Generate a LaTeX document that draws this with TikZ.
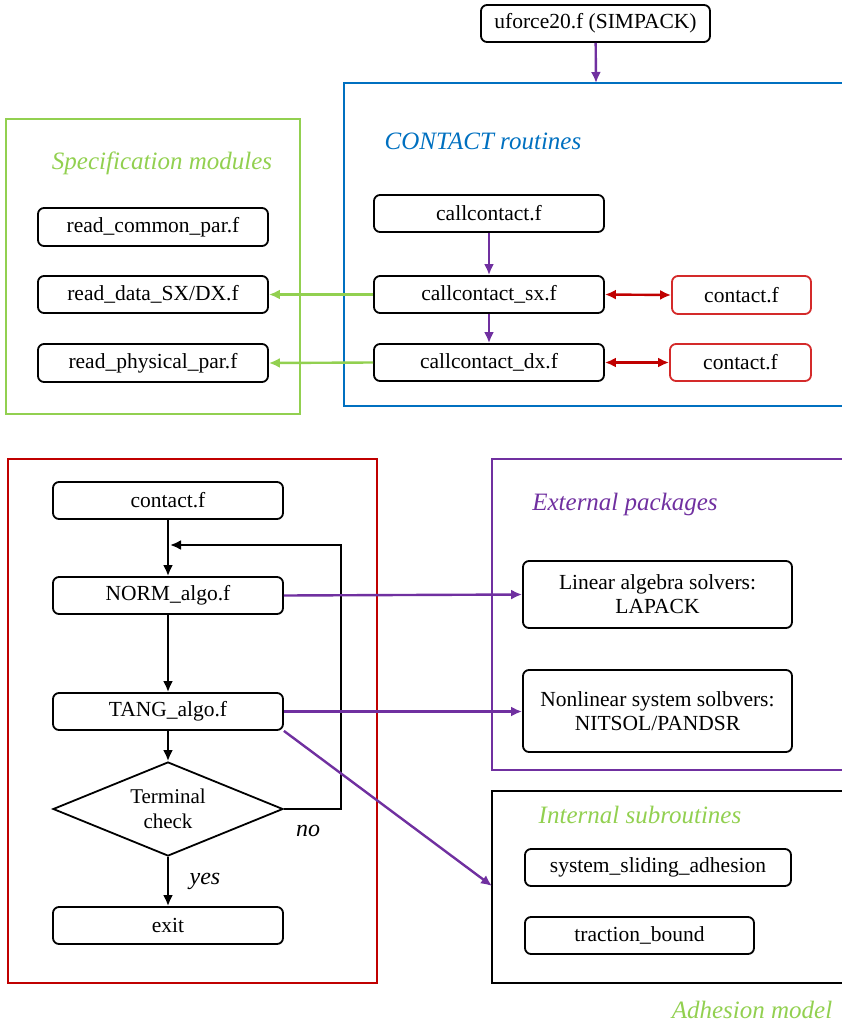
\documentclass[tikz,border=0pt]{standalone}
\usepackage{fontspec}
\setmainfont{Liberation Serif}
\usetikzlibrary{arrows.meta,shapes.geometric}
\definecolor{cblue}{HTML}{0070C0}
\definecolor{cgreen}{HTML}{92D050}
\definecolor{cred}{HTML}{C00000}
\definecolor{cpurple}{HTML}{7030A0}
\definecolor{cred2}{HTML}{D42A2A}
\begin{document}
\begin{tikzpicture}[x=1pt,y=-1pt,
  fbox/.style={draw=black,line width=1.8pt,rounded corners=6pt,inner sep=0pt,align=center,font=\fontsize{21.5}{24}\selectfont},
  rbox/.style={fbox,draw=cred2},
  frame/.style={line width=2.6pt},
  ttl/.style={font=\fontsize{25}{28}\selectfont\itshape},
  arr/.style={line width=2.4pt,-{Latex[length=11pt,width=10pt]}},
  darr/.style={line width=2.4pt,{Latex[length=11pt,width=10pt]}-{Latex[length=11pt,width=10pt]}}]
\useasboundingbox (0,0) rectangle (841,1024);
% frames
\draw[frame,cblue] (845,83) -- (344,83) -- (344,406) -- (845,406);
\draw[frame,cgreen] (6,119) rectangle (300,414);
\draw[frame,cred] (8,459) rectangle (377,983);
\draw[frame,cpurple] (845,459) -- (492,459) -- (492,770) -- (845,770);
\draw[frame,black] (845,791) -- (492,791) -- (492,983) -- (845,983);
% titles
\node[ttl,cblue] (tcontact) at (483,141) {CONTACT routines};
\node[ttl,cgreen] (tspec) at (162,163) {Specification modules};
\node[ttl,cpurple] (text) at (625,504) {External packages};
\node[ttl,cgreen] (tint) at (640,815) {Internal subroutines};
\node[ttl,cgreen] (tadh) at (752,1010) {Adhesion model};
% top
\node[fbox,minimum width=229pt,minimum height=37pt] (uforce) at (595.5,23.5) {uforce20.f (SIMPACK)};
\coordinate (bluetop) at (596,83);
\draw[arr,cpurple] (uforce) -- (bluetop);
% contact routines
\node[fbox,minimum width=230pt,minimum height=37pt] (cc) at (489,213.5) {callcontact.f};
\node[fbox,minimum width=230pt,minimum height=37pt] (ccsx) at (489,294.5) {callcontact\_sx.f};
\node[fbox,minimum width=230pt,minimum height=37pt] (ccdx) at (489,362.5) {callcontact\_dx.f};
\node[rbox,minimum width=139pt,minimum height=38pt] (c1) at (741.5,295) {contact.f};
\node[rbox,minimum width=141pt,minimum height=37pt] (c2) at (740.5,362.5) {contact.f};
\draw[arr,cpurple] (cc) -- (ccsx);
\draw[arr,cpurple] (ccsx) -- (ccdx);
\draw[darr,cred] (ccsx.east) -- (c1.west);
\draw[darr,cred] (ccdx.east) -- (c2.west);
% specification modules
\node[fbox,minimum width=230pt,minimum height=38pt] (rc) at (153,227) {read\_common\_par.f};
\node[fbox,minimum width=230pt,minimum height=37pt] (rd) at (153,294.5) {read\_data\_SX/DX.f};
\node[fbox,minimum width=230pt,minimum height=38pt] (rp) at (153,363) {read\_physical\_par.f};
\draw[arr,cgreen] (ccsx.west) -- (rd.east);
\draw[arr,cgreen] (ccdx.west) -- (rp.east);
% flowchart
\node[fbox,minimum width=230pt,minimum height=37pt] (ct) at (168,500.5) {contact.f};
\node[fbox,minimum width=230pt,minimum height=37pt] (norm) at (168,595.5) {NORM\_algo.f};
\node[fbox,minimum width=230pt,minimum height=37pt] (tang) at (168,711.5) {TANG\_algo.f};
\node[draw,line width=1.8pt,diamond,inner sep=0pt,minimum width=230pt,minimum height=94pt,aspect=2.45,align=center,font=\fontsize{21}{25}\selectfont] (chk) at (168,809) {Terminal\\check};
\node[fbox,minimum width=230pt,minimum height=37pt] (exit) at (168,925.5) {exit};
\coordinate (loopin) at (170,545);
\coordinate (loopr) at (341,809);
\coordinate (loopt) at (341,545);
\draw[arr] (ct) -- (norm);
\draw[arr] (norm) -- (tang);
\draw[arr] (tang) -- (chk);
\draw[arr] (chk) -- (exit);
\draw[arr] (chk.east) -- (loopr) -- (loopt) -- (loopin);
\node[font=\fontsize{24}{26}\selectfont\itshape] (no) at (308,831) {no};
\node[font=\fontsize{24}{26}\selectfont\itshape] (yes) at (205,881) {yes};
% external packages
\node[fbox,minimum width=269pt,minimum height=67pt] (lap) at (657.5,594.5) {Linear algebra solvers:\\LAPACK};
\node[fbox,minimum width=269pt,minimum height=82pt] (nit) at (657.5,711) {Nonlinear system solbvers:\\NITSOL/PANDSR};
\draw[arr,cpurple] (norm.east) -- (lap.west);
\draw[arr,cpurple] (tang.east) -- (tang.east -| nit.west);
\coordinate (adhin) at (492,886);
\draw[arr,cpurple] (tang.south east) -- (adhin);
% internal subroutines
\node[fbox,minimum width=266pt,minimum height=37pt] (ssa) at (658,867.5) {system\_sliding\_adhesion};
\node[fbox,minimum width=229pt,minimum height=37pt] (tb) at (639.5,935.5) {traction\_bound};
\end{tikzpicture}
\end{document}
